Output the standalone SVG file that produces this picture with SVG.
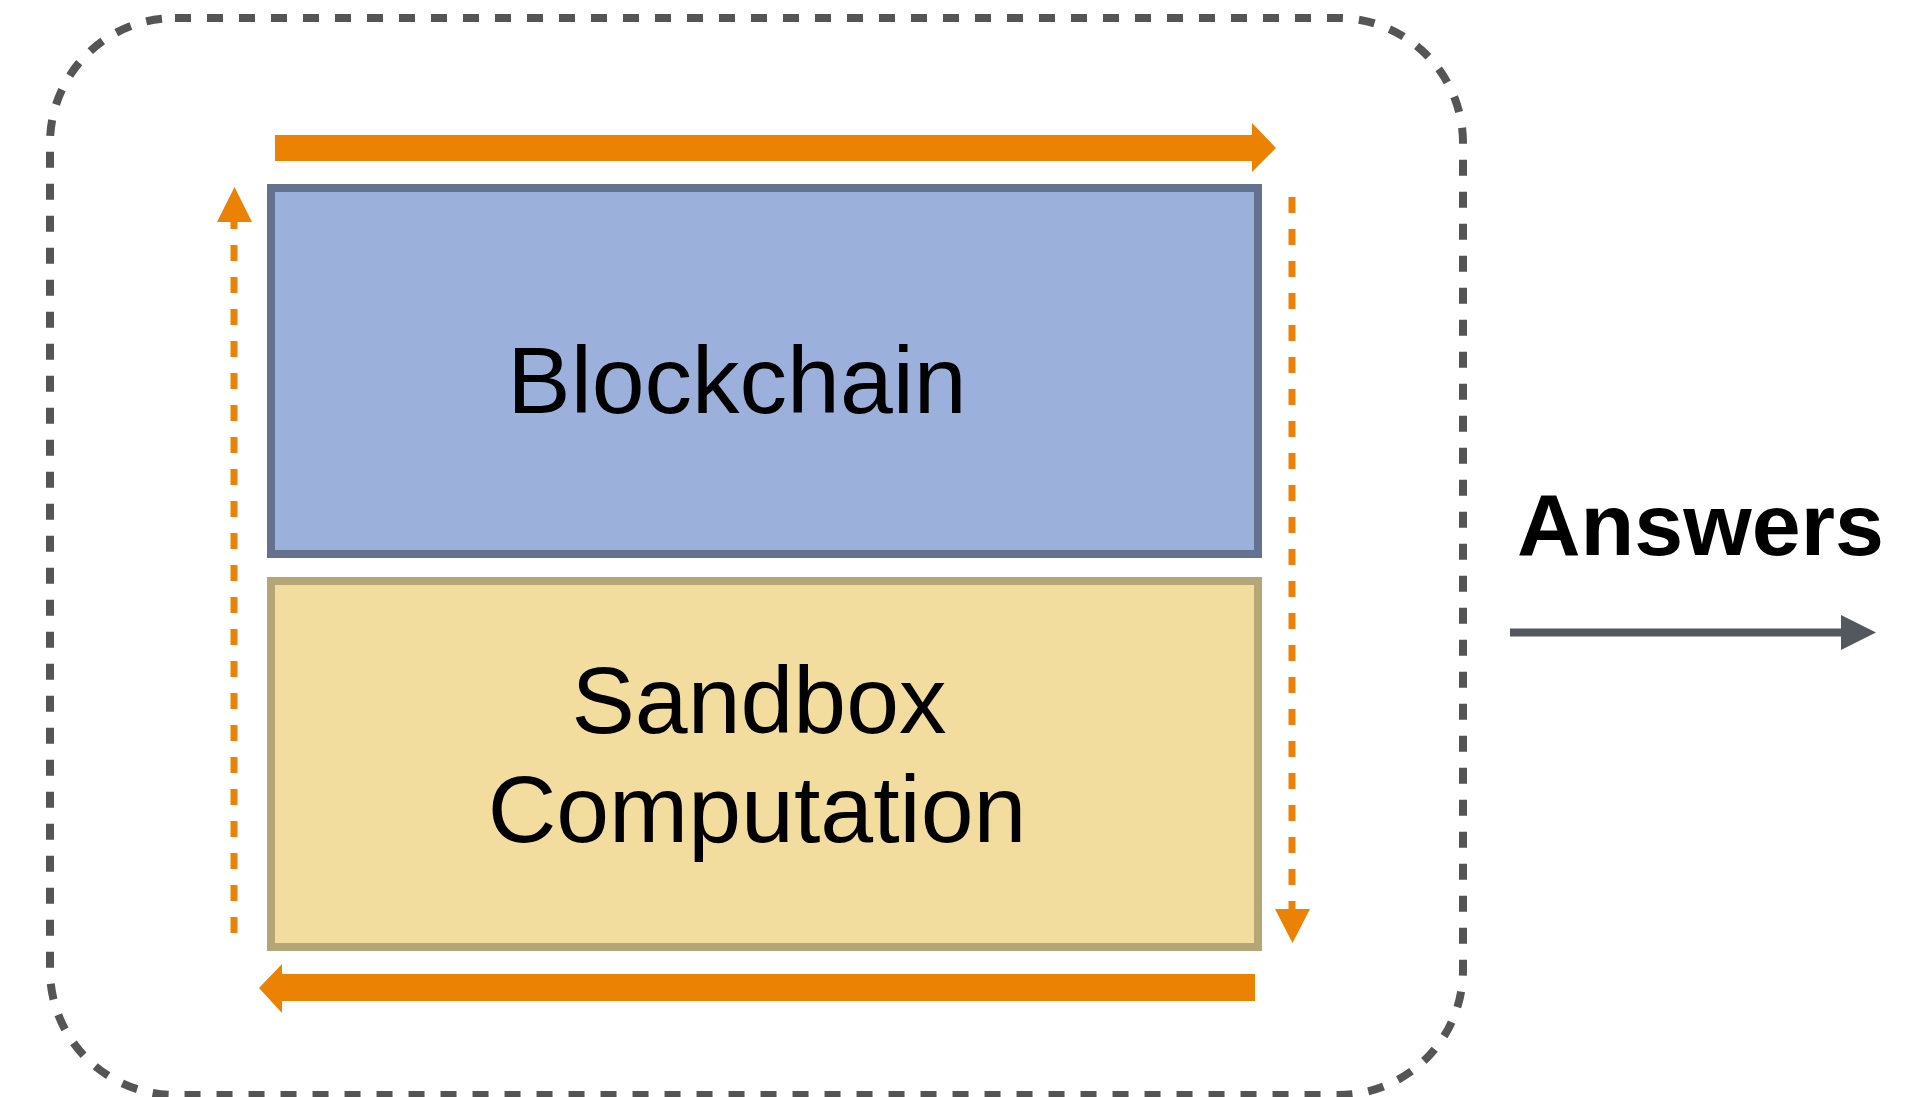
<svg xmlns="http://www.w3.org/2000/svg" width="1927" height="1097" viewBox="0 0 1927 1097">
<style>
.lbl{font-family:"Liberation Sans",Arial,Helvetica,sans-serif;fill:#000;text-anchor:middle}
.orange{fill:#EC8204}
.dash{stroke:#EC8204;stroke-width:7;stroke-dasharray:16 16;fill:none}
</style>
<rect width="1927" height="1097" fill="#fff"/>
<g id="container">
<rect x="50" y="18" width="1413" height="1077" rx="125" ry="125" fill="none" stroke="#555555" stroke-width="8" stroke-dasharray="16 16"/>
</g>
<g id="blockchain">
<rect x="271" y="188" width="987" height="366" fill="#9BB1DB" stroke="#64728F" stroke-width="8"/>
<text class="lbl" x="737" y="413" font-size="95">Blockchain</text>
</g>
<g id="sandbox">
<rect x="271" y="581" width="987" height="366" fill="#F2DD9E" stroke="#B5A677" stroke-width="8"/>
<text class="lbl" x="759" y="733" font-size="95">Sandbox</text>
<text class="lbl" x="757" y="842" font-size="95">Computation</text>
</g>
<g id="answers">
<text x="1517" y="555" font-family="Liberation Sans,Arial,sans-serif" font-weight="bold" font-size="88">Answers</text>
</g>
<g id="connectors">
<polygon class="orange" points="275,135 1252,135 1252,123 1276,148 1252,172 1252,161 275,161"/>
<polygon class="orange" points="1255,974 282,974 282,964 259,988 282,1013 282,1001 1255,1001"/>
<line class="dash" x1="234" y1="933" x2="234" y2="222"/>
<polygon class="orange" points="217,222 252,222 234.5,187"/>
<line class="dash" x1="1292" y1="197" x2="1292" y2="909"/>
<polygon class="orange" points="1275,909 1310,909 1292.5,943"/>
<line x1="1510" y1="632.5" x2="1843" y2="632.5" stroke="#53575E" stroke-width="8"/>
<polygon fill="#53575E" points="1841,615 1876,632.5 1841,650"/>
</g>
</svg>
